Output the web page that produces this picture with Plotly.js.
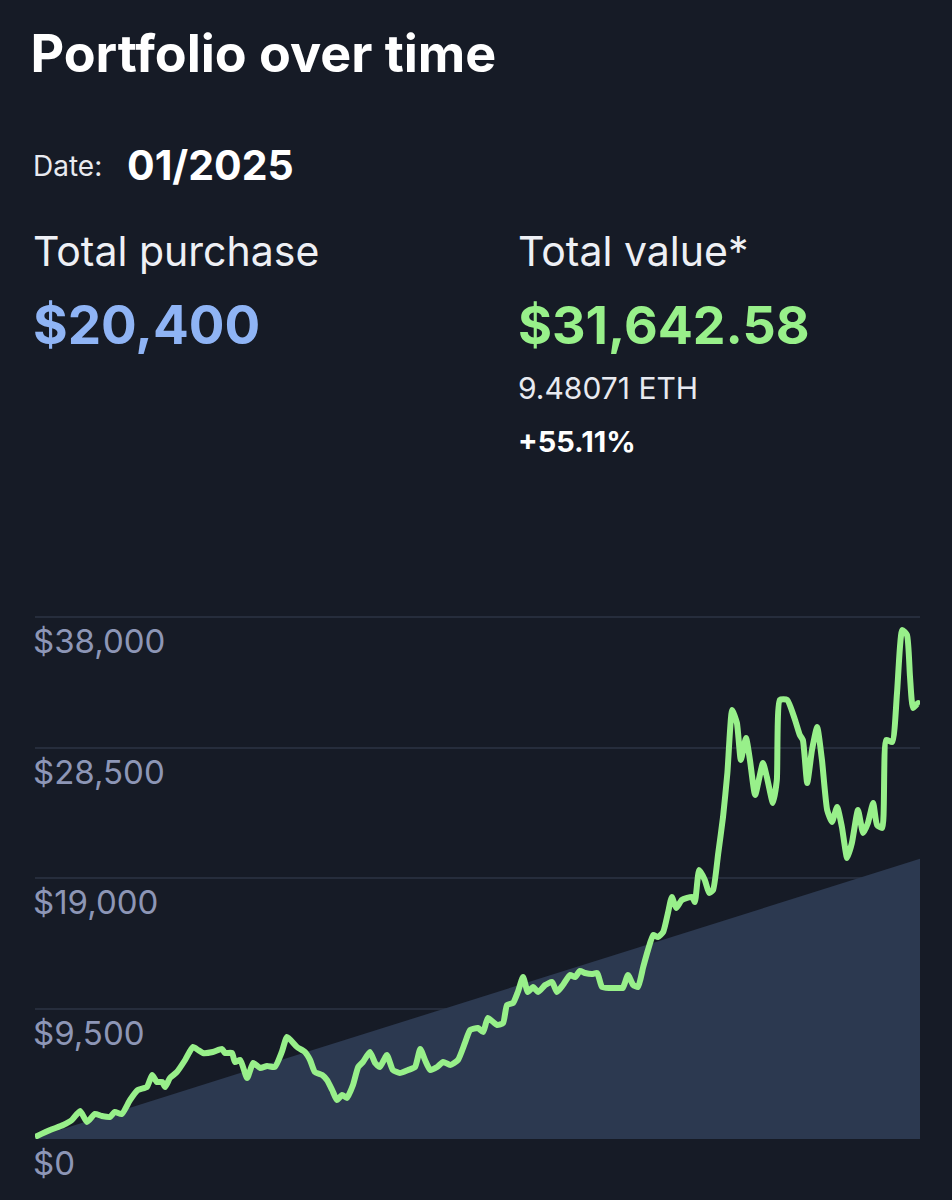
<!DOCTYPE html>
<html>
<head>
<meta charset="utf-8">
<script src="https://cdn.plot.ly/plotly-3.0.1.min.js"></script>
<style>
  html, body { margin: 0; padding: 0; background: #161b26; }
  #chart { width: 952px; height: 1200px; }
</style>
</head>
<body>
<div id="chart"></div>
<script>
// ---- Data ----
// Week index since the first purchase (x axis is hidden in the reference)
const valueWeeks = [
  0, 3.5, 6.5, 8.5, 10.4, 12, 13.8, 15.4, 17.3, 18.4, 20, 21.9, 23.7, 25.8, 27, 28.1, 29.3, 30, 31.1, 32.7,
  34.6, 36.4, 37.6, 38.7, 41, 43.1, 43.8, 45.4, 46.1, 47.3, 48.9, 50.3, 51.9, 53.5, 55.3, 56.9, 58.1, 60.4, 62.2, 63.4,
  64.5, 66.2, 67.3, 68.5, 69.6, 70.8, 71.9, 73.3, 74.5, 75.6, 77.2, 78.4, 79.5, 81.1, 82.5, 84.1, 86, 87.6, 88.8, 89.9,
  91.1, 92.7, 94.1, 95.7, 97.5, 99.1, 100.3, 102.1, 103.3, 104.4, 106.5, 107.9, 108.8, 110.2, 111.3, 112.5, 113.6, 114.8, 116, 117.6,
  119.2, 120.3, 121.7, 123.3, 124.5, 125.6, 126.8, 128.4, 129.6, 130.7, 132.5, 134.9, 135.5, 136.7, 137.9, 139, 140.2, 141.3, 142.5, 143.6,
  144.8, 145.9, 146.8, 147.8, 149.1, 151.5, 152.1, 153.1, 154.4, 155.4, 156.3, 157.5, 158.6, 159.6, 160.7, 161.8, 162.7, 163.9, 164.8, 166,
  167.8, 168.7, 170.1, 171, 171.7, 173.4, 175.2, 176.3, 177, 178, 179.1, 180.3, 181.4, 182.6, 183.7, 184.9, 186, 187.2, 188.3, 189.7,
  190.9, 192, 193.2, 194.1, 195.3, 196.2, 197.6, 198.7, 199.9, 201, 201.7, 202.4, 203.6, 204
];
// Total portfolio value in USD
const portfolioValue = [
  150, 655, 1019, 1383, 2038, 1238, 1820, 1674, 1602, 1966, 1820, 2839, 3567, 3786, 4659, 4150, 4150, 3786, 4441, 4878,
  5751, 6698, 6479, 6261, 6334, 6552, 6261, 6261, 5606, 5751, 4441, 5533, 5169, 5314, 5242, 6334, 7426, 6698, 6334, 5751,
  4878, 4659, 4295, 3567, 2839, 3203, 2985, 3931, 5242, 5606, 6334, 5533, 5242, 6115, 5023, 4805, 5023, 5242, 6552, 5751,
  5023, 5242, 5606, 5387, 5751, 6989, 7935, 8081, 7790, 8809, 8299, 8445, 9755, 9901, 10702, 11794, 10702, 11066, 10702, 11211,
  11430, 10702, 11211, 11939, 11794, 12230, 12085, 12012, 12085, 11066, 10993, 10993, 10993, 11939, 11211, 11066, 12522, 13759, 14851, 14706,
  15070, 16453, 17618, 16817, 17399, 17618, 17254, 19583, 18855, 17909, 18127, 20821, 23442, 26645, 31231, 30285, 27591, 29193, 27591, 25043,
  27373, 26354, 24461, 26135, 31959, 31959, 30503, 29411, 29047, 25917, 28319, 29994, 27591, 23951, 23078, 24170, 22714, 20457, 21549, 23951,
  22277, 23005, 24461, 22859, 22641, 29047, 28901, 32469, 37055, 36691, 33634, 31377, 31741, 31643
];
// Cumulative amount purchased (USD)
const purchaseWeeks = [0, 204];
const purchaseTotal = [100, 20400];

// Axis ticks
const tickValues = [0, 9500, 19000, 28500, 38000];
const tickLabels = ["$0", "$9,500", "$19,000", "$28,500", "$38,000"];

// Header texts
const titleText = "Portfolio over time";
const dateLabel = "Date:";
const dateValue = "01/2025";
const purchaseLabel = "Total purchase";
const purchaseValueText = "$20,400";
const valueLabel = "Total value*";
const valueText = "$31,642.58";
const ethText = "9.48071 ETH";
const changeText = "+55.11%";

// ---- Styling ----
const BG = "#161b26";
const GREEN = "#98f08a";
const BLUE = "#8fb4f5";
const AREA = "#2c3950";
const GRID = "#262d3c";
const TICK = "#8d96b6";
const FONT = "Inter, 'Open Sans', sans-serif";

const traces = [
  {
    x: purchaseWeeks, y: purchaseTotal, type: "scatter", mode: "lines",
    fill: "tozeroy", fillcolor: AREA, line: { width: 0, color: AREA },
    hoverinfo: "skip", showlegend: false
  },
  {
    x: valueWeeks, y: portfolioValue, type: "scatter", mode: "lines",
    line: { color: GREEN, width: 6, shape: "spline", smoothing: 0.5 },
    showlegend: false
  }
];

const ann = [];
function txt(text, x, y, size, color, weight, extra) {
  ann.push(Object.assign({
    text: text, xref: "paper", yref: "paper", x: x, y: y,
    xanchor: "left", yanchor: "middle", showarrow: false,
    font: { family: FONT, size: size, color: color, weight: weight }
  }, extra || {}));
}
// header block (paper coords relative to the plot area)
txt(dateLabel, -0.004, 1.856, 28, "#e8eaf0", 400);
txt(dateValue, 0.102, 1.858, 41, "#ffffff", 700);
txt(purchaseLabel, -0.004, 1.695, 41, "#eef0f5", 400);
txt(purchaseValueText, -0.004, 1.553, 53, BLUE, 700);
txt(valueLabel, 0.543, 1.695, 41, "#eef0f5", 400);
txt(valueText, 0.543, 1.553, 52, GREEN, 700);
txt(ethText, 0.543, 1.434, 30, "#e8eaf0", 400);
txt(changeText, 0.543, 1.332, 29, "#ffffff", 700);
// y tick labels, placed under each gridline like the reference
tickValues.forEach(function (v, i) {
  ann.push({
    text: tickLabels[i], xref: "paper", yref: "y", x: -0.004, y: v,
    xanchor: "left", yanchor: "top", yshift: -2, showarrow: false,
    font: { family: FONT, size: 33, color: TICK }
  });
});

const layout = {
  width: 952, height: 1200,
  paper_bgcolor: BG, plot_bgcolor: BG,
  margin: { l: 35, r: 32, t: 615, b: 61 },
  title: {
    text: titleText, xref: "container", yref: "container",
    x: 0.032, xanchor: "left", y: 1 - 54 / 1200, yanchor: "middle",
    font: { family: FONT, size: 52, color: "#ffffff", weight: 700 }
  },
  xaxis: { range: [0, 204], visible: false, fixedrange: true },
  yaxis: {
    range: [0, 38146], tickvals: tickValues, showticklabels: false,
    showgrid: true, gridcolor: GRID, gridwidth: 2, zeroline: false,
    showline: false, ticks: "", fixedrange: true
  },
  annotations: ann,
  showlegend: false
};

Plotly.newPlot("chart", traces, layout, { displayModeBar: false, staticPlot: true });
</script>
</body>
</html>
